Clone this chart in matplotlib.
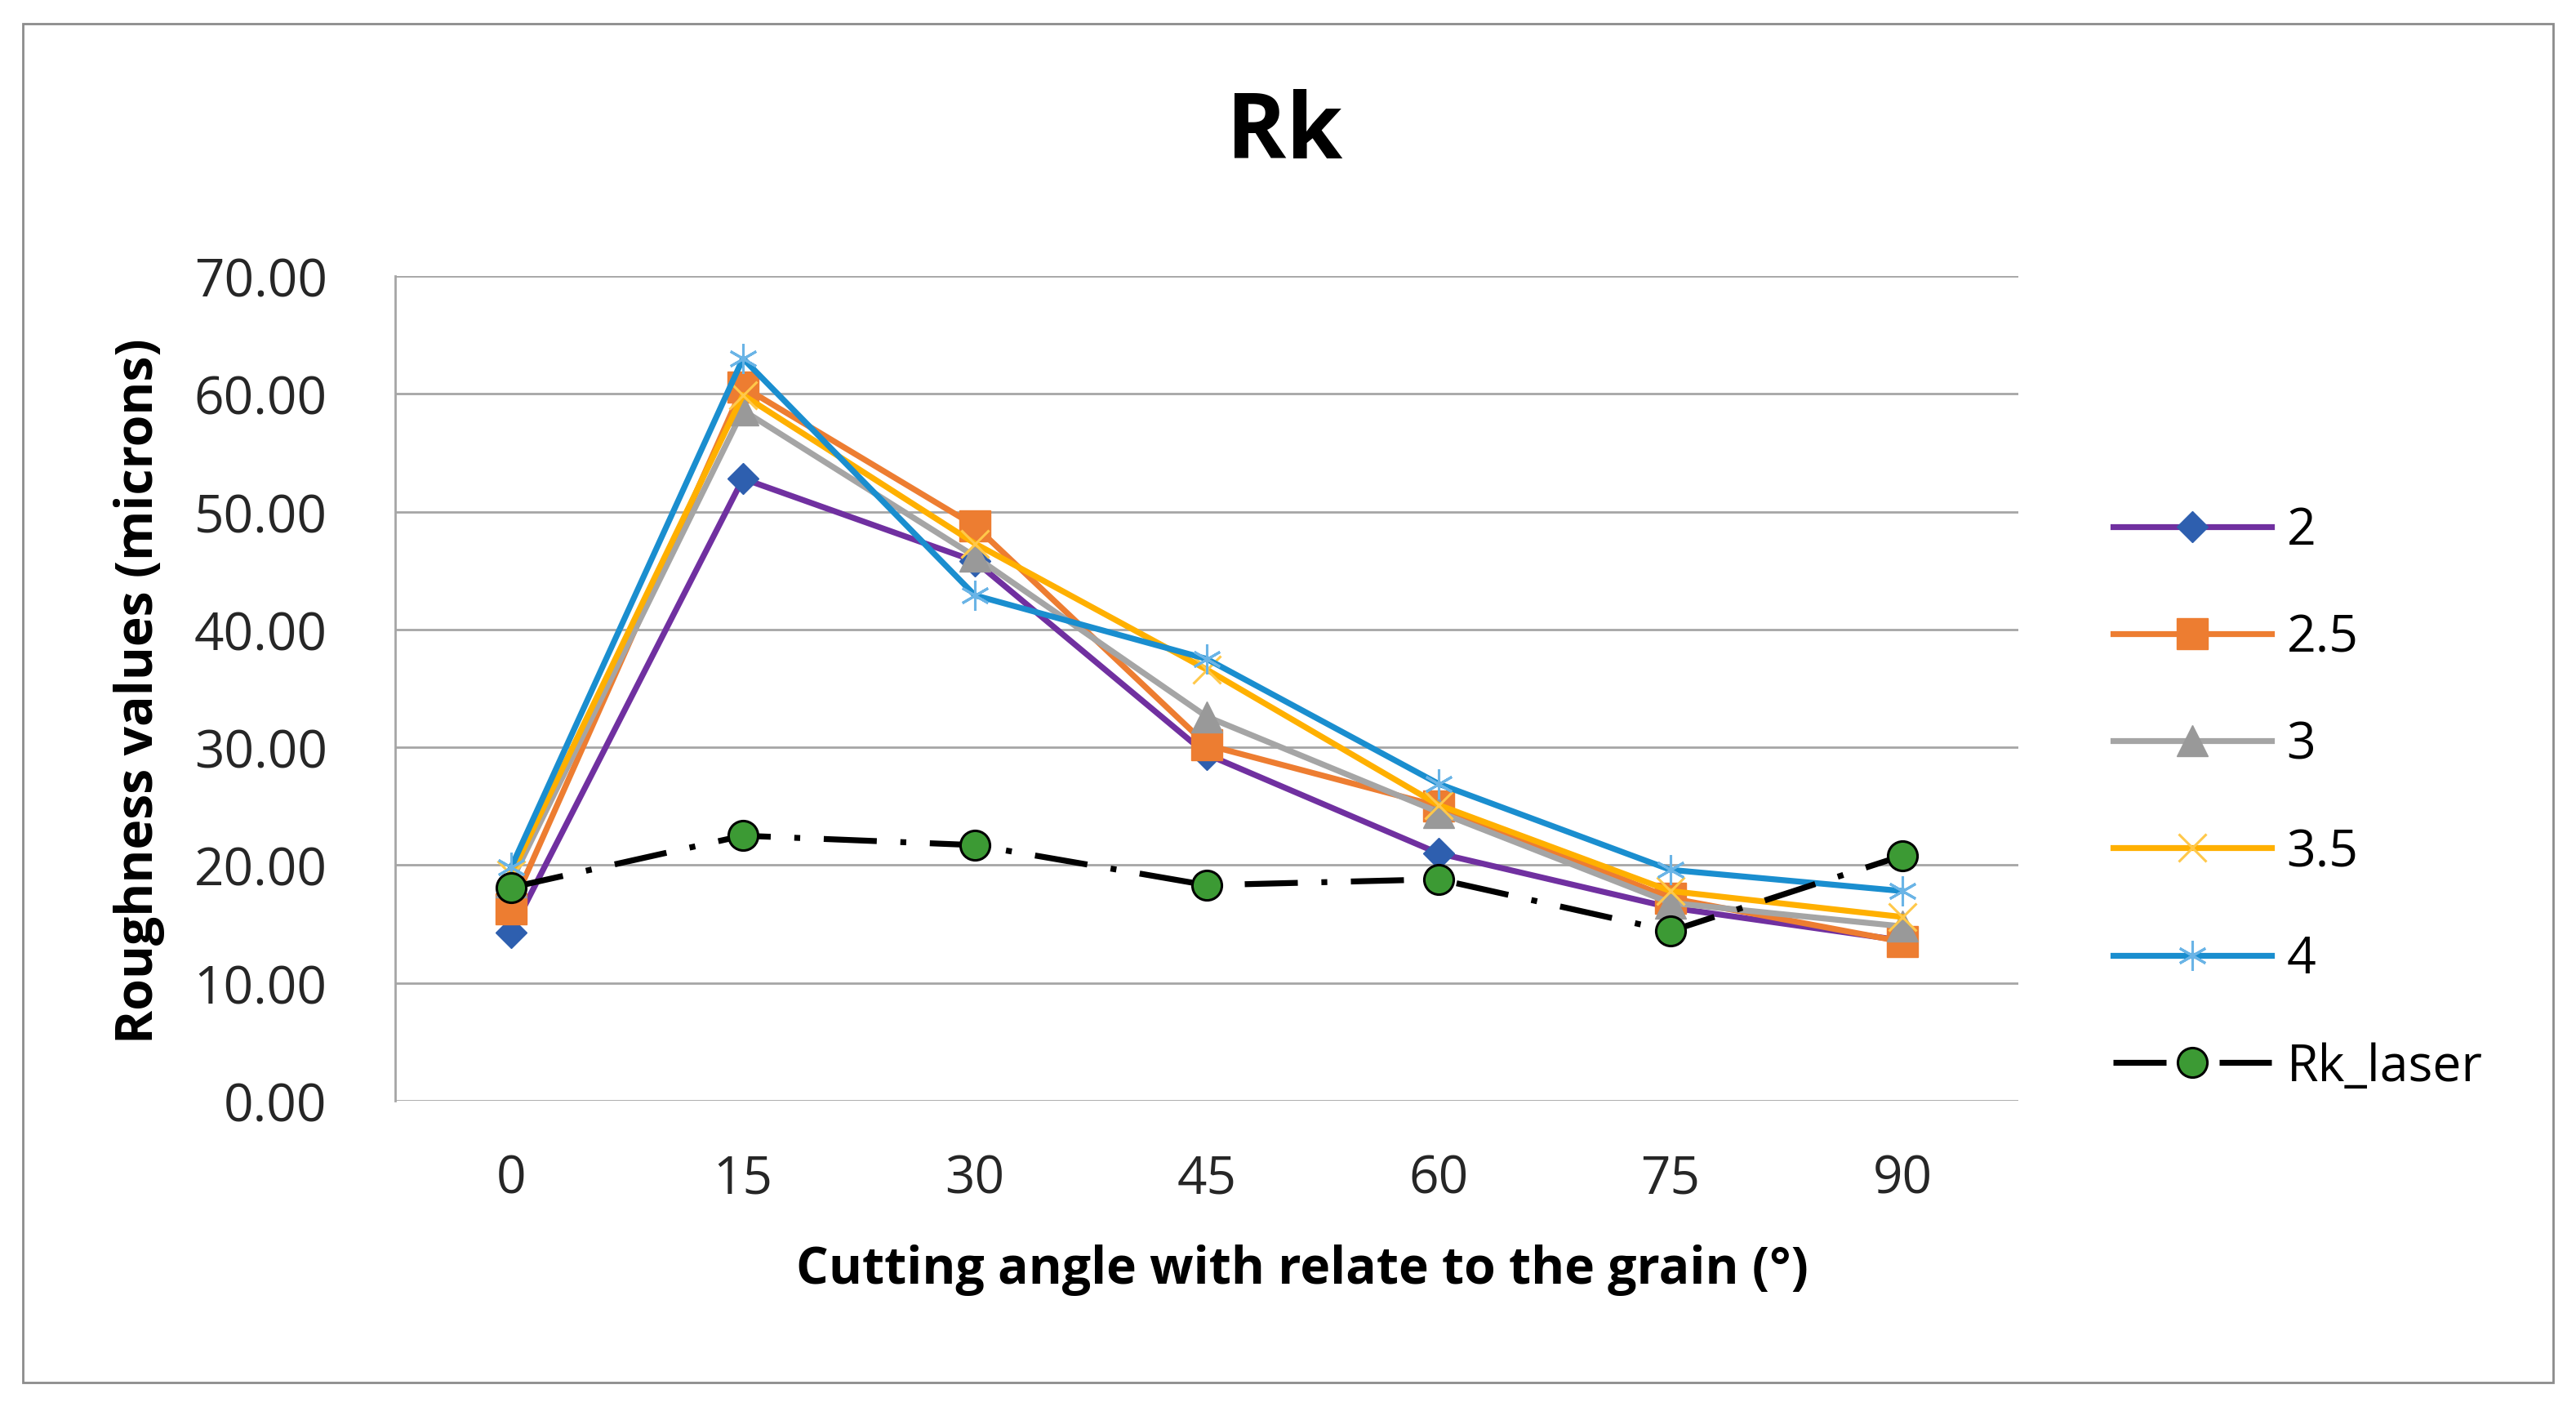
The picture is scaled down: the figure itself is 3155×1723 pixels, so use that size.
import matplotlib
matplotlib.use("Agg")
import matplotlib.pyplot as plt
from matplotlib.patches import Rectangle

plt.rcParams['font.family'] = ['Open Sans', 'DejaVu Sans']

# data
angles = ['0', '15', '30', '45', '60', '75', '90']
rk_2 = [14.3, 52.8, 45.8, 29.4, 21.0, 16.4, 13.6]
rk_25 = [16.3, 60.6, 48.8, 30.2, 25.0, 17.2, 13.5]
rk_3 = [18.6, 58.6, 46.2, 32.6, 24.5, 16.8, 14.8]
rk_35 = [19.2, 59.9, 47.3, 36.6, 25.1, 17.8, 15.6]
rk_4 = [19.8, 63.0, 42.9, 37.5, 26.9, 19.6, 17.8]
rk_laser = [18.1, 22.5, 21.7, 18.3, 18.8, 14.4, 20.8]

W, H = 3155, 1724
fig = plt.figure(figsize=(W / 100, H / 100), dpi=100)
ax = fig.add_axes([484 / W, 1 - 1349 / H, (2472 - 484) / W, (1349 - 339) / H])

# outer chart border
fig.patches.append(Rectangle((28 / W, 30 / H), (3127 - 28) / W, (1694 - 30) / H,
                             transform=fig.transFigure, fill=False, edgecolor='#8c8c8c', lw=2))

x = list(range(len(angles)))
lw = 5.2
ax.plot(x, rk_2, color='#7030A0', lw=lw, marker='D', ms=19, mfc='#2E5FAF', mec='#2E5FAF', label='2')
ax.plot(x, rk_25, color='#ED7D31', lw=lw, marker='s', ms=27, mfc='#ED7D31', mec='#ED7D31', label='2.5')
ax.plot(x, rk_3, color='#A5A5A5', lw=lw, marker='^', ms=27, mfc='#999999', mec='#999999', label='3')
ax.plot(x, rk_35, color='#FFB000', lw=lw, marker='x', ms=24, mew=2.2, mec='#FFC84A', label='3.5')
ax.plot(x, rk_4, color='#1A8ECF', lw=lw, marker=(6, 2, 0), ms=26, mew=2.2, mec='#6AB4E6', label='4')
ax.plot(x, rk_laser, color='black', lw=lw, dashes=(9, 4, 1, 4), marker='o', ms=26,
        mfc='#3C9A34', mec='black', mew=2.2, label='Rk_laser')

ax.set_xlim(-0.5, 6.5)
ax.set_ylim(0, 70)
ax.set_yticks(range(0, 71, 10))
ax.set_yticklabels([f'{v:.2f}' for v in range(0, 71, 10)])
ax.set_xticks(x)
ax.set_xticklabels(angles)
ax.tick_params(axis='both', length=0, labelsize=46, colors='#262626')
ax.tick_params(axis='y', pad=60)
ax.tick_params(axis='x', pad=46)

ax.grid(axis='y', color='#a6a6a6', lw=2)
ax.set_axisbelow(True)
for side in ['top', 'right', 'bottom']:
    ax.spines[side].set_visible(False)
ax.spines['left'].set_color('#a6a6a6')
ax.spines['left'].set_linewidth(2)

fig.text(1573 / W, 1 - 165 / H, 'Rk', fontsize=80, fontweight='bold', ha='center', va='center')
fig.text(171 / W, 1 - 846 / H, 'Roughness values (microns)', fontsize=45, fontweight='bold',
         rotation=90, ha='center', va='center')
fig.text(1595 / W, 1 - 1556 / H, 'Cutting angle with relate to the grain (°)', fontsize=45,
         fontweight='bold', ha='center', va='center')

ax.legend(loc='center left', bbox_to_anchor=(1.03, 0.366), frameon=False, fontsize=45,
          handlelength=3.1, labelspacing=1.1, handletextpad=0.3)

fig.savefig('out.png', dpi=100)
